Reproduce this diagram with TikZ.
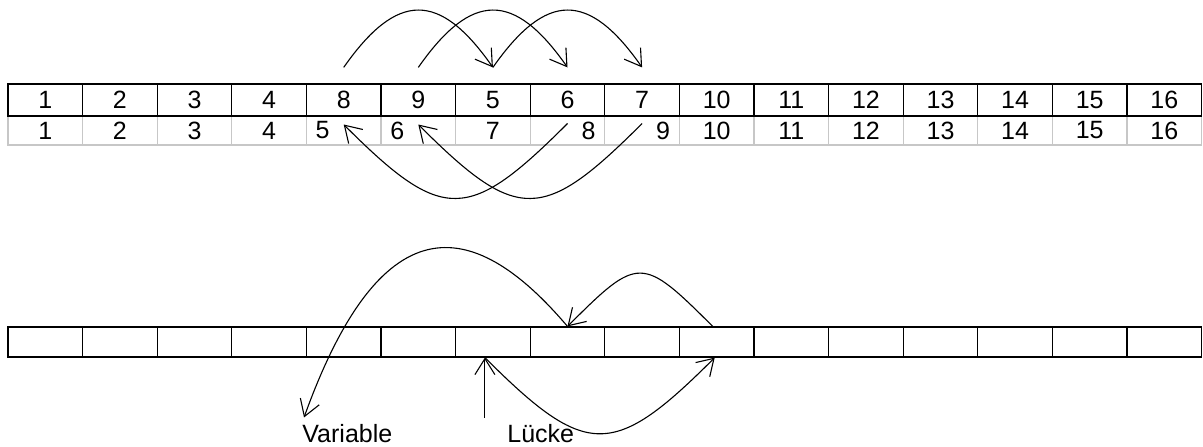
\documentclass[tikz,border=0pt]{standalone}
\usepackage{fontspec}
\setmainfont{Liberation Sans}
\usetikzlibrary{arrows.meta}

\begin{document}
\begin{tikzpicture}[x=0.5pt, y=0.5pt,
    cell/.style={draw, line width=0.6pt, minimum width=37.3pt, inner sep=0pt, font=\fontsize{12.5}{14}\selectfont},
    flow/.style={line width=0.55pt, -{Straight Barb[length=8pt,width=10pt]}},
    lbl/.style={inner sep=0pt, font=\fontsize{12.5}{14}\selectfont}]
    \useasboundingbox (0,0) rectangle (1203,446);

    % Second row (old order)
    \foreach \v/\al [count=\i] in {1/c,2/c,3/c,4/c,5/l,6/l,7/c,8/r,9/r,10/c,11/c,12/c,13/c,14/c,15/c,16/c} {
        \pgfmathsetmacro{\xpos}{8+74.6*(\i-0.5)}
        \node[cell, draw=black!22, minimum height=14.5pt] (s\i) at (\xpos,315.5) {\makebox[28pt][\al]{\v}};
    }

    % Top row (new order)
    \foreach \v [count=\i] in {1,2,3,4,8,9,5,6,7,10,11,12,13,14,15,16} {
        \pgfmathsetmacro{\xpos}{8+74.6*(\i-0.5)}
        \node[cell, minimum height=16pt] (t\i) at (\xpos,346) {\v};
    }

    % Moves above the top row
    \draw[flow] ([yshift=8pt]t5.north) to[out=55,in=125,looseness=1.6] ([yshift=8pt]t7.north);
    \draw[flow] ([yshift=8pt]t6.north) to[out=55,in=125,looseness=1.6] ([yshift=8pt]t8.north);
    \draw[flow] ([yshift=8pt]t7.north) to[out=55,in=125,looseness=1.6] ([yshift=8pt]t9.north);

    % Moves below the second row
    \draw[flow] ([yshift=3.5pt]s8.center) to[out=225,in=-45,looseness=1.6] ([yshift=3pt]s5.center);
    \draw[flow] ([yshift=3.5pt]s9.center) to[out=225,in=-45,looseness=1.6] ([yshift=3pt]s6.center);

    % Empty array
    \foreach \i in {1,...,16} {
        \pgfmathsetmacro{\xpos}{8+74.6*(\i-0.5)}
        \node[cell, minimum height=15pt] (b\i) at (\xpos,104) {};
    }

    % Labels
    \node[lbl, anchor=base west] (var) at (302,4) {Variable};
    \node[lbl, anchor=base west] (luecke) at (507,4) {Lücke};
    \coordinate (gap) at ([xshift=-4pt]b7.south);

    % Moves in the empty array
    \draw[flow] ([xshift=-2pt]b10.north) to[out=135,in=45,looseness=1.77] (b8.north);
    \draw[flow] (b8.north) .. controls +(-90,106) and +(80,222) .. ([xshift=1pt,yshift=3pt]var.north west);
    \draw[flow] ([yshift=-30pt]gap) -- (gap);
    \draw[flow] (gap) to[out=-45,in=225,looseness=1.6] ([xshift=-1pt]b10.south);
\end{tikzpicture}
\end{document}
